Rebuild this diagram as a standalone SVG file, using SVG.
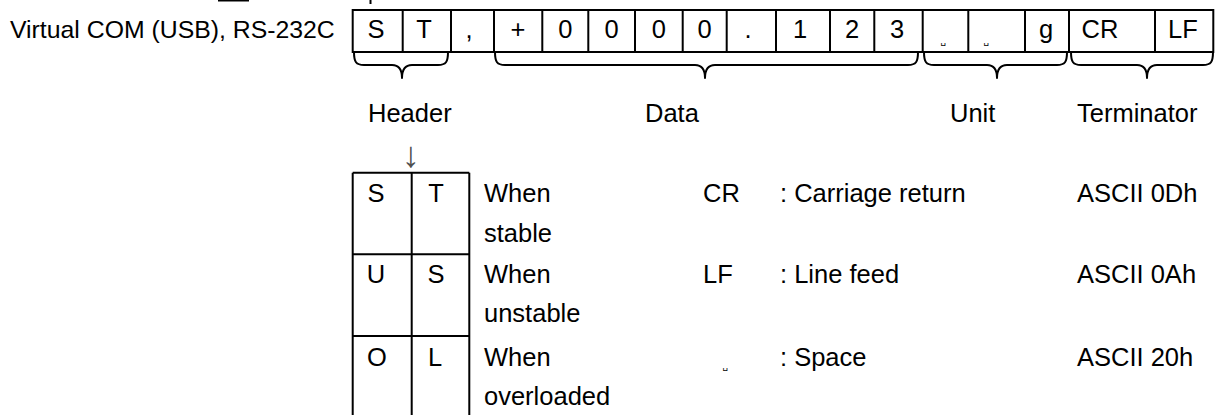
<svg xmlns="http://www.w3.org/2000/svg" width="1216" height="415" viewBox="0 0 1216 415">
<style>
text{font-family:"Liberation Sans",Arial,sans-serif;font-size:25.5px;fill:#000}
.c{text-anchor:middle}
.ln{stroke:#000;stroke-width:2;fill:none}
.br{stroke:#000;stroke-width:2;fill:none;stroke-linejoin:round}
.sp{font-family:"DejaVu Sans",sans-serif;font-size:9px}
</style>
<rect width="1216" height="415" fill="#fff"/>
<g id="fragments">
<line class="ln" x1="218" y1="0.5" x2="249" y2="0.5" stroke-width="1.5"/>
<line class="ln" x1="370.5" y1="0" x2="370.5" y2="4" stroke-width="1.5"/>
</g>
<text id="interface-label" x="10" y="38" style="font-size:24.8px">Virtual COM (USB), RS-232C</text>
<g id="frame">
<rect class="ln" x="352.7" y="10" width="860.6" height="42"/>
<path class="ln" d="M402.7 10V52M451 10V52M494 10V52M542.3 10V52M588.3 10V52M635 10V52M682.7 10V52M726.7 10V52M776 10V52M830 10V52M874.3 10V52M922.7 10V52M968.3 10V52M1025 10V52M1069 10V52M1155 10V52"/>
<text class="c" x="376" y="38">S</text>
<text class="c" x="424" y="38">T</text>
<text class="c" x="469" y="38">,</text>
<text class="c" x="518" y="38">+</text>
<text class="c" x="565.3" y="38">0</text>
<text class="c" x="611.7" y="38">0</text>
<text class="c" x="658.8" y="38">0</text>
<text class="c" x="704.7" y="38">0</text>
<text class="c" x="748" y="38">.</text>
<text class="c" x="800" y="38">1</text>
<text class="c" x="852" y="38">2</text>
<text class="c" x="897" y="38">3</text>
<text class="c sp" x="943" y="44">␣</text>
<text class="c sp" x="986" y="44">␣</text>
<text class="c" x="1046" y="38">g</text>
<text class="c" x="1100" y="38">CR</text>
<text class="c" x="1183" y="38">LF</text>
</g>
<g id="connectors">
<path class="br" d="M354 52C354 62 356 65 364 65H392C399 65 402 70 402 78C402 70 405 65 412 65H438C446 65 448 62 448 52"/>
<path class="br" d="M495 52C495 62 497 65 505 65H695C702 65 705 70 705 78C705 70 708 65 715 65H908C916 65 918 62 918 52"/>
<path class="br" d="M924 52C924 62 926 65 934 65H987C994 65 997 70 997 78C997 70 1000 65 1007 65H1057C1065 65 1067 62 1067 52"/>
<path class="br" d="M1071 52C1071 62 1073 65 1081 65H1137C1144 65 1147 70 1147 78C1147 70 1150 65 1157 65H1203C1211 65 1213 62 1213 52"/>
</g>
<g id="labels">
<text x="368" y="122">Header</text>
<text x="645" y="122">Data</text>
<text x="950" y="122">Unit</text>
<text x="1077" y="122">Terminator</text>
<text class="c" x="411" y="167" style="fill:#505050;font-size:36px">↓</text>
</g>
<g id="header-table">
<path class="ln" d="M352.7 172.7V415M411.7 172.7V415M469.3 172.7V415M352.7 172.7H469.3M352.7 254.3H469.3M352.7 336H469.3"/>
<text class="c" x="376" y="202">S</text>
<text class="c" x="436" y="202">T</text>
<text class="c" x="376" y="283">U</text>
<text class="c" x="436" y="283">S</text>
<text class="c" x="377" y="366">O</text>
<text class="c" x="435" y="366">L</text>
<text x="484" y="202">When</text>
<text x="484" y="242">stable</text>
<text x="484" y="283">When</text>
<text x="484" y="322">unstable</text>
<text x="484" y="366">When</text>
<text x="484" y="405">overloaded</text>
</g>
<g id="legend">
<text x="703" y="202">CR</text>
<text x="780" y="202">: Carriage return</text>
<text x="1077" y="202">ASCII 0Dh</text>
<text x="703" y="283">LF</text>
<text x="780" y="283">: Line feed</text>
<text x="1077" y="283">ASCII 0Ah</text>
<text class="c sp" x="725" y="369">␣</text>
<text x="780" y="366">: Space</text>
<text x="1077" y="366">ASCII 20h</text>
</g>
</svg>
